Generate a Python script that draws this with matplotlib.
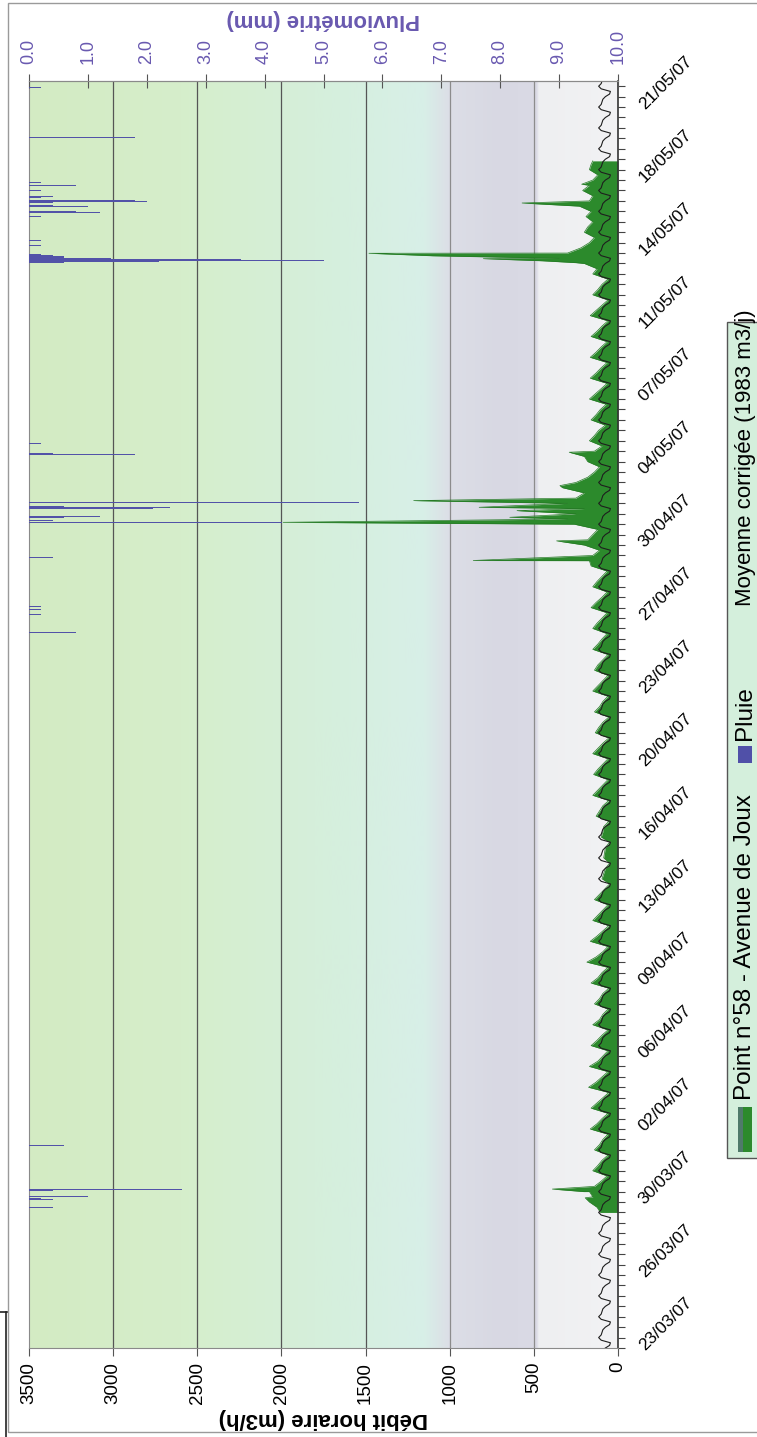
import numpy as np
import matplotlib
matplotlib.use('Agg')
import matplotlib.pyplot as plt
from matplotlib.patches import Rectangle
from matplotlib.lines import Line2D
from datetime import datetime, timedelta

plt.rcParams['font.family'] = ['Liberation Sans', 'DejaVu Sans']

# time axis: days since 23/03/2007 00h
T0 = datetime(2007, 3, 23)
T_MAX = 60.75

# hourly flow (m3/h), read every 6 h (00h, 06h, 12h, 18h), first value 29/03 12h
FLOW_START = 6.5
FLOW_6H = [
    105, 125,                      # 29/03 (12h, 18h)
    170, 150, 170, 140,            # 30/03
    100, 65, 150, 120,             # 31/03
    95, 60, 140, 110,              # 01/04
    90, 60, 165, 125,              # 02/04
    95, 60, 160, 125,              # 03/04
    90, 55, 175, 130,              # 04/04
    95, 60, 170, 120,              # 05/04
    90, 60, 160, 125,              # 06/04
    95, 60, 150, 110,              # 07/04
    90, 60, 140, 110,              # 08/04
    90, 55, 160, 120,              # 09/04
    95, 60, 185, 130,              # 10/04
    90, 60, 165, 125,              # 11/04
    90, 55, 150, 120,              # 12/04
    90, 60, 140, 110,              # 13/04
    80, 50, 95, 85,                # 14/04
    75, 50, 85, 80,                # 15/04
    75, 50, 100, 90,               # 16/04
    85, 55, 130, 110,              # 17/04
    90, 55, 150, 120,              # 18/04
    90, 60, 145, 120,              # 19/04
    90, 60, 150, 120,              # 20/04
    90, 55, 135, 115,              # 21/04
    90, 55, 140, 110,              # 22/04
    90, 60, 150, 120,              # 23/04
    90, 60, 140, 120,              # 24/04
    90, 60, 150, 120,              # 25/04
    95, 65, 150, 125,              # 26/04
    95, 65, 160, 130,              # 27/04
    95, 65, 150, 125,              # 28/04
    95, 65, 160, 170,              # 29/04
    150, 110, 200, 180,            # 30/04
    150, 120, 260, 300,            # 01/05
    250, 200, 300, 250,            # 02/05
    200, 330, 250, 180,            # 03/05
    140, 110, 180, 200,            # 04/05
    140, 95, 170, 140,             # 05/05
    115, 75, 160, 130,             # 06/05
    105, 70, 170, 135,             # 07/05
    100, 65, 165, 130,             # 08/05
    100, 65, 165, 130,             # 09/05
    100, 65, 160, 125,             # 10/05
    95, 60, 165, 130,              # 11/05
    95, 60, 150, 120,              # 12/05
    95, 60, 150, 125,              # 13/05
    200, 350, 300, 220,            # 14/05
    170, 140, 200, 180,            # 15/05
    150, 190, 160, 230,            # 16/05
    170, 150, 210, 170,            # 17/05
    150, 120, 170, 160,            # 18/05
]
FLOW_END_T, FLOW_END_V = 56.92, 150

# short flow peaks during rain (day, m3/h)
SPIKE_T = [7.20, 7.50, 7.62, 37.76, 38.70, 39.59, 39.83, 40.15, 40.31, 40.63, 40.70,
           41.35, 42.95, 52.04, 52.13, 52.23, 52.37, 52.49, 54.90, 55.80]
SPIKE_V = [195, 205, 390, 860, 365, 1990, 643, 600, 825, 1214, 650,
           345, 290, 250, 450, 800, 1100, 1480, 570, 216]

# "moyenne corrigée" typical day, every 3 h from 00h
MOY_DAY = [75, 50, 45, 100, 115, 100, 95, 90]

# rain (day, mm per hour)
RAIN_T = [6.74, 7.13, 7.17, 7.25, 7.56, 7.60, 9.73,
          34.31, 35.17, 35.41, 35.55, 37.92, 39.59, 39.67, 39.83, 39.87,
          40.24, 40.28, 40.32, 40.36, 40.55, 42.84, 42.88, 43.38,
          52.05, 52.09, 52.13, 52.17, 52.21, 52.25, 52.29, 52.33, 52.37, 52.41, 52.45,
          52.85, 53.12, 54.24, 54.45, 54.49, 54.72, 54.76, 54.92, 54.96, 55.00, 55.04,
          55.17, 55.21, 55.49, 55.73, 55.89, 58.04, 60.44]
RAIN_MM = [0.4, 0.4, 0.2, 1.0, 0.4, 2.6, 0.6,
           0.8, 0.2, 0.2, 0.2, 0.4, 4.3, 0.4, 0.6, 1.2,
           2.1, 1.8, 2.4, 0.6, 5.6, 1.8, 0.4, 0.2,
           0.6, 2.2, 5.0, 4.4, 3.6, 1.4, 0.6, 0.6, 0.4, 0.2, 0.2,
           0.2, 0.2, 0.2, 1.2, 0.8, 1.0, 0.4, 0.4, 2.0, 1.8, 1.2,
           0.2, 0.4, 0.2, 0.8, 0.2, 1.8, 0.2]

FLOW_TICKS = [0, 500, 1000, 1500, 2000, 2500, 3000, 3500]
RAIN_TICKS = [0, 1, 2, 3, 4, 5, 6, 7, 8, 9, 10]

PURPLE = '#6959b0'
GREEN = '#2c8a2c'
W, H = 757, 1437

# ---- series ----
flow_t = FLOW_START + 0.25 * np.arange(len(FLOW_6H))
flow_t = np.concatenate([flow_t, [FLOW_END_T], SPIKE_T])
flow_v = np.concatenate([FLOW_6H, [FLOW_END_V], SPIKE_V])
order = np.argsort(flow_t)
flow_t, flow_v = flow_t[order], flow_v[order]

n_days = int(np.ceil(T_MAX)) + 1
moy_t = np.arange(n_days * len(MOY_DAY)) / len(MOY_DAY)
moy_v = np.tile(MOY_DAY, n_days)

fig = plt.figure(figsize=(W / 100, H / 100), dpi=100)
fig.patch.set_facecolor('white')
ax = fig.add_axes([29 / W, (H - 1348) / H, 589 / W, 1267 / H])

# background gradient (greenish -> grey)
stops_x = [3500, 2600, 1800, 1150, 1000, 700, 480, 470, 0]
stops_c = ['#d3ebc3', '#d6eecb', '#d5efdb', '#d8efe8', '#dcdee6', '#d8d8e3', '#dadae5', '#eeeff1', '#f2f2f4']
xs = np.linspace(3500, 0, 600)
rgb = np.array([matplotlib.colors.to_rgb(c) for c in stops_c])
grad = np.stack([np.interp(xs, stops_x[::-1], rgb[::-1, k]) for k in range(3)], axis=-1)
ax.imshow(grad[None, :, :], extent=[3500, 0, 0, T_MAX], aspect='auto', zorder=0, interpolation='bilinear')

for v in [3000, 2500, 2000, 1500]:
    ax.axvline(v, color='#555555', lw=0.9, zorder=1)
for v in [1000, 500]:
    ax.axvline(v, color='#8c8c8c', lw=0.9, zorder=1)

ax.fill_betweenx(flow_t, 0, flow_v, color=GREEN, lw=0, zorder=2)
ax.plot(flow_v, flow_t, color='#257a25', lw=0.5, zorder=2)
ax.plot(moy_v, moy_t, color='#1e1e1e', lw=0.8, zorder=3)

ax.set_xlim(3500, 0)
ax.set_ylim(0, T_MAX)
ax.set_xticks(FLOW_TICKS)
ax.set_xticklabels([str(v) for v in FLOW_TICKS], rotation=90, fontsize=13.5)
ax.tick_params(axis='x', direction='out', length=6, color='#555555', pad=4)

major = np.arange(0, 60, 3.5)
ax.set_yticks(major)
ax.set_yticks(np.arange(0, T_MAX, 0.5), minor=True)
ax.set_yticklabels([(T0 + timedelta(days=float(d))).strftime('%d/%m/%y') for d in major], fontsize=12.5)
ax.tick_params(axis='y', which='both', left=False, right=True, labelleft=False, labelright=True,
               direction='out', length=5, width=0.8, color='#444444', pad=12)
for lab in ax.get_yticklabels():
    lab.set_rotation(45)
    lab.set_rotation_mode('anchor')
    lab.set_ha('left')
    lab.set_va('center')

for s in ['left', 'bottom', 'top']:
    ax.spines[s].set_color('#8a8a8a')
    ax.spines[s].set_linewidth(0.8)
ax.spines['right'].set_color('#333333')
ax.spines['right'].set_linewidth(1.2)

ax.set_xlabel('Débit horaire (m3/h)', fontsize=16, fontweight='bold', rotation=180, labelpad=3)

# rain on secondary axis
ax2 = ax.twiny()
ax2.set_xlim(0, 10)
ax2.barh(RAIN_T, RAIN_MM, height=1 / 24, left=0, color='#5252a8', lw=0, zorder=4)
ax2.set_xticks(RAIN_TICKS)
ax2.set_xticklabels([f'{v:.1f}' for v in RAIN_TICKS], rotation=90, fontsize=13, color=PURPLE)
ax2.tick_params(axis='x', direction='inout', length=10, color='#555555', pad=7)
ax2.set_xlabel('Pluviométrie (mm)', fontsize=16, fontweight='bold', rotation=180, color=PURPLE, labelpad=3)
for s in ['left', 'bottom', 'right']:
    ax2.spines[s].set_visible(False)
ax2.spines['top'].set_color('#8a8a8a')

# legend, drawn by hand (rotated)
def fy(y):
    return (H - y) / H

fig.patches.append(Rectangle((727 / W, fy(1158)), 40 / W, 836 / H, transform=fig.transFigure,
                             facecolor='#d4efdc', edgecolor='#555555', lw=1.0, zorder=5))
fig.patches.append(Rectangle((738 / W, fy(1152)), 14 / W, 45 / H, transform=fig.transFigure,
                             facecolor=GREEN, edgecolor='none', zorder=6))
fig.patches.append(Rectangle((738 / W, fy(1152)), 5 / W, 45 / H, transform=fig.transFigure,
                             facecolor='#4f7a6a', edgecolor='none', zorder=6))
fig.text(745 / W, fy(1100), 'Point n°58 - Avenue de Joux', rotation=90, ha='center', va='bottom',
         fontsize=17.5, zorder=7)
fig.patches.append(Rectangle((738 / W, fy(763)), 14 / W, 17 / H, transform=fig.transFigure,
                             facecolor='#5050a8', edgecolor='none', zorder=6))
fig.text(745 / W, fy(740), 'Pluie', rotation=90, ha='center', va='bottom', fontsize=17.5, zorder=7)
fig.add_artist(Line2D([745 / W, 745 / W], [fy(662), fy(617)], color='#222222', lw=1, transform=fig.transFigure))
fig.text(745 / W, fy(606), 'Moyenne corrigée (1983 m3/j)', rotation=90, ha='center', va='bottom',
         fontsize=16, zorder=7)

# outer frame of the scanned chart
fig.patches.append(Rectangle((8 / W, fy(1432)), 760 / W, 1429 / H, transform=fig.transFigure,
                             facecolor='none', edgecolor='#9a9a9a', lw=1.0))
fig.add_artist(Line2D([6 / W, 6 / W], [fy(1312), fy(1437)], color='#222222', lw=1.2, transform=fig.transFigure))
fig.add_artist(Line2D([0, 7 / W], [fy(1312), fy(1312)], color='#222222', lw=1.2, transform=fig.transFigure))

fig.savefig('out.png', dpi=100)
